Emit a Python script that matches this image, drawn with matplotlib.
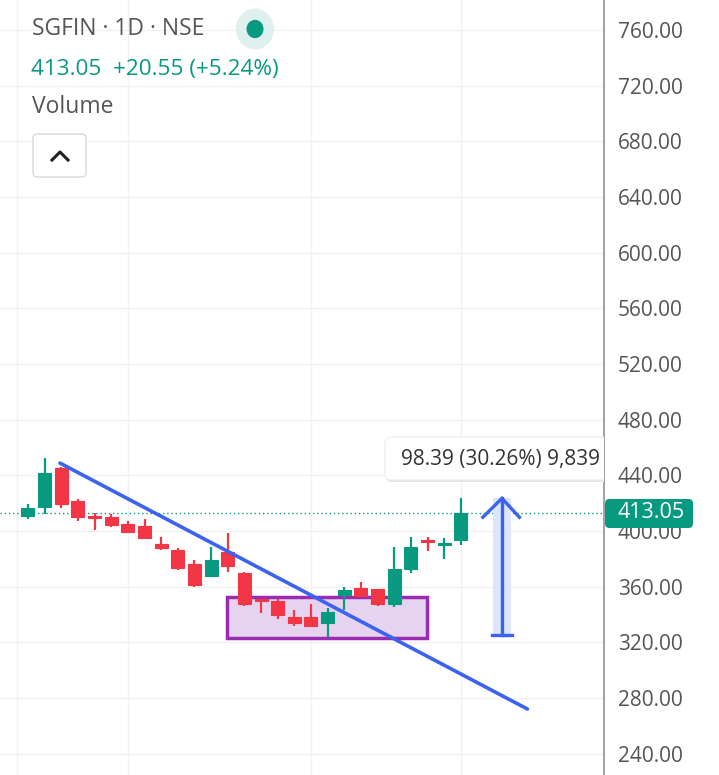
import matplotlib
matplotlib.use("Agg")
import matplotlib.pyplot as plt
from matplotlib.patches import Rectangle, FancyBboxPatch, Circle

plt.rcParams['font.family'] = ['Open Sans', 'DejaVu Sans']

# OHLC data (daily candles)
opens = [410.9, 417.3, 445.4, 421.6, 410.9, 410.1, 405.1, 403.7, 390.8, 386.4,
         376.4, 367.8, 385.0, 369.9, 350.9, 349.8, 338.3, 338.3, 334.0, 354.1,
         359.1, 358.4, 347.6, 372.8, 393.3, 390.0, 393.6]
highs = [419.5, 452.5, 446.0, 423.1, 413.0, 412.3, 407.3, 408.7, 395.8, 387.9,
         379.3, 388.6, 398.6, 370.6, 351.5, 351.2, 343.3, 347.6, 344.7, 359.9,
         363.4, 358.6, 388.6, 395.8, 395.8, 395.1, 423.8]
lows = [408.7, 412.3, 416.6, 407.3, 400.8, 402.9, 399.4, 394.3, 386.4, 372.1,
        359.9, 367.0, 370.6, 346.2, 341.2, 336.9, 331.5, 330.8, 323.9, 343.3,
        353.4, 346.2, 345.5, 369.9, 385.7, 380.0, 390.0]
closes = [416.6, 441.8, 419.5, 410.1, 409.6, 404.4, 399.6, 395.1, 387.9, 373.5,
          361.3, 379.3, 374.9, 347.6, 350.0, 339.7, 334.0, 331.5, 341.9, 357.7,
          353.4, 347.6, 372.8, 388.6, 392.5, 391.5, 413.05]

price_ticks = [240, 280, 320, 360, 400, 440, 480, 520, 560, 600, 640, 680, 720, 760]
vgrid = [-0.66, 6, 17, 26]

last_price = 413.05
trend_x = [1.92, 30.0]
trend_y = [448.9, 272.2]
box_x = [11.95, 23.96]
box_y = [323.1, 352.7]
measure_x = 28.47
measure_lo, measure_hi = 325.15, 423.54
measure_text = "98.39 (30.26%) 9,839"

GREEN = "#089981"
RED = "#f23645"
BLUE = "#3b63f0"

W, H = 719, 775
fig = plt.figure(figsize=(W / 100, H / 100), dpi=100)
ax = fig.add_axes([0, 0, 604 / W, 1])
ax.set_xlim(-1.68, 34.6)
ax.set_ylim(224.8, 781.55)

for s in ["top", "left", "bottom"]:
    ax.spines[s].set_visible(False)
ax.spines["right"].set_color("#9a9a9a")
ax.spines["right"].set_linewidth(1.3)
ax.set_xticks([])
ax.yaxis.tick_right()
ax.set_yticks(price_ticks)
ax.set_yticklabels([f"{v:.2f}" for v in price_ticks])
ax.tick_params(axis="y", length=0, pad=10, labelsize=15, labelcolor="#555555")

for v in price_ticks:
    ax.axhline(v, color="#f0f1f4", lw=1, zorder=0)
for v in vgrid:
    ax.axvline(v, color="#f0f1f4", lw=1, zorder=0)

# candles
bw = 0.78
for i, (o, h, l, c) in enumerate(zip(opens, highs, lows, closes)):
    col = GREEN if c >= o else RED
    ax.plot([i, i], [l, h], color=col, lw=1.6, zorder=3, solid_capstyle="butt")
    lo, hi = min(o, c), max(o, c)
    ax.add_patch(Rectangle((i - bw / 2, lo), bw, max(hi - lo, 0.9),
                           facecolor=col, edgecolor=col, lw=0.8, zorder=4))

# last price dotted line
ax.axhline(last_price, color=GREEN, lw=1, ls=(0, (1, 2)), zorder=2)

# consolidation box
ax.add_patch(Rectangle((box_x[0], box_y[0]), box_x[1] - box_x[0], box_y[1] - box_y[0],
                       facecolor="#e6d3ef", edgecolor="#9c2bb3", lw=2.5, zorder=2))

# trend line
ax.plot(trend_x, trend_y, color=BLUE, lw=2.6, zorder=5, solid_capstyle="round")

# measure tool
ax.add_patch(Rectangle((measure_x - 0.54, measure_lo), 1.08, measure_hi - measure_lo,
                       facecolor="#dde5fc", edgecolor="none", zorder=2))
ax.plot([measure_x, measure_x], [measure_lo, measure_hi], color=BLUE, lw=2.4, zorder=5)
ax.plot([measure_x - 0.6, measure_x + 0.6], [measure_lo, measure_lo], color=BLUE, lw=2.4, zorder=5)
ax.plot([measure_x - 1.15, measure_x, measure_x + 1.05],
        [measure_hi - 13.6, measure_hi, measure_hi - 13.6],
        color=BLUE, lw=2.4, zorder=5, solid_joinstyle="miter")

# measure label box (figure pixel coordinates)
def fx(px):
    return px / W

def fy(py):
    return 1 - py / H

shadow = FancyBboxPatch((fx(386), fy(482)), fx(250), 42 / H,
                        boxstyle="round,pad=0,rounding_size=0.008",
                        transform=fig.transFigure, facecolor="#e4e4e4",
                        edgecolor="none", zorder=6)
label = FancyBboxPatch((fx(385), fy(480)), fx(250), 43 / H,
                       boxstyle="round,pad=0,rounding_size=0.008",
                       transform=fig.transFigure, facecolor="white",
                       edgecolor="#ececec", lw=0.8, zorder=7)
ax.add_patch(shadow)
ax.add_patch(label)
ax.text(fx(401), fy(459), measure_text, transform=fig.transFigure,
        fontsize=15, color="#333333", va="center", ha="left", zorder=8)

# last price badge on the axis
badge = FancyBboxPatch((fx(605), fy(528)), fx(88), 29 / H,
                       boxstyle="round,pad=0,rounding_size=0.006",
                       transform=fig.transFigure, facecolor=GREEN,
                       edgecolor="none", zorder=10, clip_on=False)
fig.patches.append(badge)
fig.text(fx(651), fy(513), f"{last_price:.2f}", fontsize=15.5, color="white",
         ha="center", va="center", zorder=11)

# header
fig.text(fx(32), fy(29), "SGFIN · 1D · NSE", fontsize=16.5, color="#555555",
         ha="left", va="center")
fig.patches.append(Circle((fx(255), fy(29)), 19 / W, transform=fig.transFigure,
                          facecolor="#dff1ee", edgecolor="none"))
fig.patches.append(Circle((fx(255), fy(29)), 8.5 / W, transform=fig.transFigure,
                          facecolor=GREEN, edgecolor="none"))
fig.text(fx(31), fy(70), "413.05  +20.55 (+5.24%)", fontsize=16.2, color=GREEN,
         ha="left", va="center")
fig.text(fx(32), fy(107), "Volume", fontsize=16.5, color="#555555",
         ha="left", va="center")
fig.patches.append(FancyBboxPatch((fx(33), fy(177)), fx(53), 43 / H,
                                  boxstyle="round,pad=0,rounding_size=0.006",
                                  transform=fig.transFigure, facecolor="white",
                                  edgecolor="#d8d8d8", lw=1))
fig.lines.append(plt.Line2D([fx(52), fx(60), fx(68)], [fy(160), fy(152), fy(160)],
                            transform=fig.transFigure, color="#222222", lw=2.2))

fig.savefig("out.png", dpi=100)
